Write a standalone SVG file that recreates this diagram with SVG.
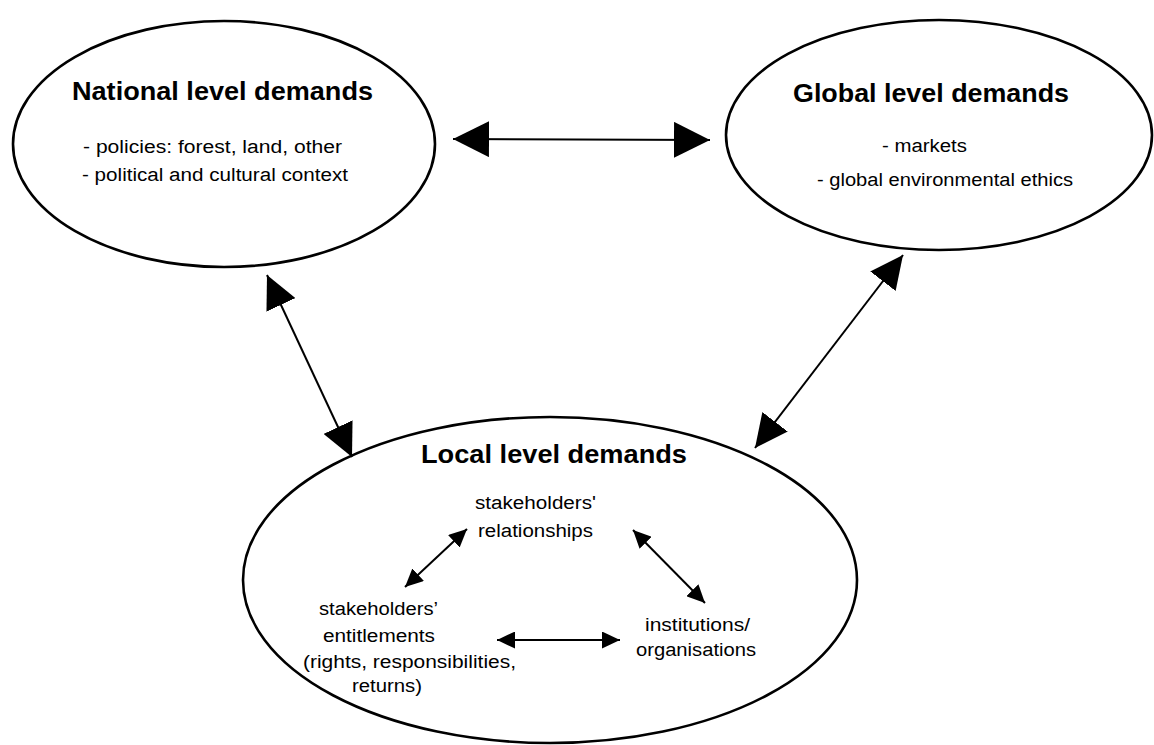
<svg xmlns="http://www.w3.org/2000/svg" width="1154" height="745" viewBox="0 0 1154 745">
<style>
.node{fill:#fff;stroke:#000;stroke-width:2.6}
.t{font-family:"Liberation Sans",Arial,sans-serif;fill:#000}
.title{font-size:25px;font-weight:bold}
.body{font-size:18px}
.conn{stroke:#000;stroke-width:2;fill:none}
</style>
<defs>
<marker id="hBig" markerUnits="userSpaceOnUse" markerWidth="36" markerHeight="36" refX="36" refY="18" orient="auto-start-reverse" viewBox="0 0 36 36"><path d="M0,0 L36,18 L0,36 z" fill="#000"/></marker>
<marker id="hMid" markerUnits="userSpaceOnUse" markerWidth="33" markerHeight="32" refX="33" refY="16" orient="auto-start-reverse" viewBox="0 0 33 32"><path d="M0,0 L33,16 L0,32 z" fill="#000"/></marker>
<marker id="hSmall" markerUnits="userSpaceOnUse" markerWidth="18" markerHeight="17" refX="18" refY="8.5" orient="auto-start-reverse" viewBox="0 0 18 17"><path d="M0,0 L18,8.5 L0,17 z" fill="#000"/></marker>
</defs>
<rect width="1154" height="745" fill="#fff"/>
<g id="national">
<ellipse class="node" cx="224" cy="144" rx="211" ry="123"/>
<text class="t title" x="72" y="100" textLength="301" lengthAdjust="spacingAndGlyphs">National level demands</text>
<text class="t body" x="83" y="153" textLength="259" lengthAdjust="spacingAndGlyphs">- policies: forest, land, other</text>
<text class="t body" x="82" y="181" textLength="266" lengthAdjust="spacingAndGlyphs">- political and cultural context</text>
</g>
<g id="global">
<ellipse class="node" cx="939" cy="135" rx="213" ry="115"/>
<text class="t title" x="793" y="102" textLength="276" lengthAdjust="spacingAndGlyphs">Global level demands</text>
<text class="t body" x="882" y="152" textLength="85" lengthAdjust="spacingAndGlyphs">- markets</text>
<text class="t body" x="817" y="186" textLength="256" lengthAdjust="spacingAndGlyphs">- global environmental ethics</text>
</g>
<g id="local">
<ellipse class="node" cx="550" cy="580" rx="307" ry="163"/>
<text class="t title" x="421" y="463" textLength="266" lengthAdjust="spacingAndGlyphs">Local level demands</text>
</g>
<g id="relationships">
<text class="t body" x="475" y="509" textLength="121" lengthAdjust="spacingAndGlyphs">stakeholders'</text>
<text class="t body" x="478" y="537" textLength="115" lengthAdjust="spacingAndGlyphs">relationships</text>
</g>
<g id="entitlements">
<text class="t body" x="319" y="615" textLength="119" lengthAdjust="spacingAndGlyphs">stakeholders’</text>
<text class="t body" x="323" y="642" textLength="112" lengthAdjust="spacingAndGlyphs">entitlements</text>
<text class="t body" x="303" y="668" textLength="213" lengthAdjust="spacingAndGlyphs">(rights, responsibilities,</text>
<text class="t body" x="352" y="692" textLength="70" lengthAdjust="spacingAndGlyphs">returns)</text>
</g>
<g id="institutions">
<text class="t body" x="645" y="631" textLength="105" lengthAdjust="spacingAndGlyphs">institutions/</text>
<text class="t body" x="636" y="656" textLength="120" lengthAdjust="spacingAndGlyphs">organisations</text>
</g>
<g id="connectors">
<line class="conn" x1="453" y1="139" x2="710" y2="140" marker-start="url(#hBig)" marker-end="url(#hBig)"/>
<line class="conn" x1="267" y1="275" x2="352" y2="457" marker-start="url(#hMid)" marker-end="url(#hMid)"/>
<line class="conn" x1="903" y1="255" x2="755" y2="448" marker-start="url(#hMid)" marker-end="url(#hMid)"/>
<line class="conn" x1="467" y1="529" x2="405" y2="587" marker-start="url(#hSmall)" marker-end="url(#hSmall)"/>
<line class="conn" x1="633" y1="530" x2="705" y2="603" marker-start="url(#hSmall)" marker-end="url(#hSmall)"/>
<line class="conn" x1="497" y1="640" x2="620" y2="640" marker-start="url(#hSmall)" marker-end="url(#hSmall)"/>
</g>
</svg>
